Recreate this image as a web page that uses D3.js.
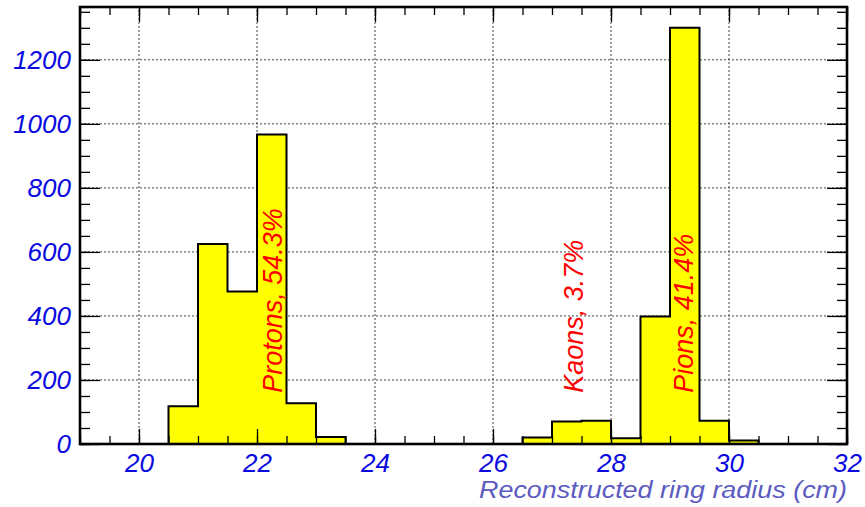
<!DOCTYPE html>
<html>
<head>
<meta charset="utf-8">
<script src="https://cdn.jsdelivr.net/npm/d3@7"></script>
<style>
  html, body { margin: 0; padding: 0; background: #ffffff; }
  svg { display: block; }
  text { font-family: "Liberation Sans", Arial, Helvetica, sans-serif; font-style: italic; }
</style>
</head>
<body>
<svg id="chart" width="865" height="507"></svg>
<script>
// Histogram of reconstructed ring radius: 26 bins of 0.5 cm from 19 to 32 cm
const binLow = 19;
const binWidth = 0.5;
const counts = [
  0, 0, 0,           // 19.0 - 20.5
  118, 625, 476, 967, 127, 22,   // 20.5 - 23.5 (protons)
  0, 0, 0, 0, 0, 0,  // 23.5 - 26.5
  20, 70, 73, 18,    // 26.5 - 28.5 (kaons)
  398, 1300, 73, 11, // 28.5 - 30.5 (pions)
  0, 0, 0            // 30.5 - 32.0
];
const xTicks = [20, 22, 24, 26, 28, 30, 32];
const yTicks = [0, 200, 400, 600, 800, 1000, 1200];
const species = ["Protons, 54.3%", "Kaons, 3.7%", "Pions, 41.4%"];
const axisTitle = "Reconstructed ring radius (cm)";

const svg = d3.select("#chart");
const W = 865, H = 507;
const margin = { left: 80, top: 7, right: 18, bottom: 63 };
const x0 = margin.left, x1 = W - margin.right;
const y0 = H - margin.bottom, y1 = margin.top;

const xMax = binLow + binWidth * counts.length;
const x = d3.scaleLinear().domain([binLow, xMax]).range([x0, x1]);
const y = d3.scaleLinear().domain([0, 1.05 * d3.max(counts)]).range([y0, y1]);

svg.append("rect").attr("width", W).attr("height", H).attr("fill", "#ffffff");

// dotted grid at major ticks
const grid = svg.append("g").attr("stroke", "#444").attr("stroke-width", 1)
  .attr("stroke-dasharray", "2,2");
grid.selectAll("line.gx").data(xTicks.filter(t => t > binLow && t < xMax)).join("line")
  .attr("x1", d => x(d)).attr("x2", d => x(d)).attr("y1", y0).attr("y2", y1);
grid.selectAll("line.gy").data(yTicks.filter(t => t > 0)).join("line")
  .attr("y1", d => y(d)).attr("y2", d => y(d)).attr("x1", x0).attr("x2", x1);

// histogram as a filled step outline
const pts = counts.map((c, i) => [binLow + i * binWidth, c]);
pts.push([xMax, counts[counts.length - 1]]);
const area = d3.area().curve(d3.curveStepAfter)
  .x(d => x(d[0])).y0(y(0)).y1(d => y(d[1]));
const line = d3.line().curve(d3.curveStepAfter)
  .x(d => x(d[0])).y(d => y(d[1]));
svg.append("path").attr("d", area(pts)).attr("fill", "#ffff00");
svg.append("path").attr("d", line(pts)).attr("fill", "none")
  .attr("stroke", "#000").attr("stroke-width", 2);

// tick marks on all four sides, pointing inward
const minorX = d3.range(binLow, xMax + 1e-9, 0.5);
const minorY = d3.range(0, y.domain()[1], 50);
function ticks(axis, transform) {
  const g = svg.append("g").attr("transform", transform).call(axis);
  g.select(".domain").remove();
  g.selectAll(".tick line").attr("stroke", "#000").attr("stroke-width", 1.3);
  return g;
}
const fmtNone = () => "";
ticks(d3.axisBottom(x).tickValues(minorX).tickSize(-8).tickFormat(fmtNone), `translate(0,${y0})`);
ticks(d3.axisTop(x).tickValues(minorX).tickSize(-8).tickFormat(fmtNone), `translate(0,${y1})`);
ticks(d3.axisTop(x).tickValues(xTicks).tickSize(-15).tickFormat(fmtNone), `translate(0,${y1})`);
ticks(d3.axisLeft(y).tickValues(minorY).tickSize(-10).tickFormat(fmtNone), `translate(${x0},0)`);
ticks(d3.axisRight(y).tickValues(minorY).tickSize(-10).tickFormat(fmtNone), `translate(${x1},0)`);
ticks(d3.axisRight(y).tickValues(yTicks).tickSize(-20).tickFormat(fmtNone), `translate(${x1},0)`);

const xAxis = ticks(d3.axisBottom(x).tickValues(xTicks).tickSize(-15).tickPadding(10)
  .tickFormat(d3.format("d")), `translate(0,${y0})`);
const yAxis = ticks(d3.axisLeft(y).tickValues(yTicks).tickSize(-20).tickPadding(9)
  .tickFormat(d3.format("d")), `translate(${x0},0)`);
[xAxis, yAxis].forEach(g => g.selectAll(".tick text")
  .attr("fill", "#0a0ae0").style("font-size", "26px")
  .style("font-family", "'Liberation Sans', Arial, sans-serif").style("font-style", "italic"));

// frame
svg.append("rect").attr("x", x0).attr("y", y1).attr("width", x1 - x0).attr("height", y0 - y1)
  .attr("fill", "none").attr("stroke", "#000").attr("stroke-width", 2.6);

// species labels, written vertically
const labelPos = [[22.42, 160], [27.52, 160], [29.39, 160]];
svg.selectAll("text.species").data(species).join("text")
  .attr("class", "species")
  .attr("transform", (d, i) => `translate(${x(labelPos[i][0])},${y(labelPos[i][1])}) rotate(-90)`)
  .attr("fill", "#ff0000").style("font-size", "27px")
  .text(d => d);

// axis title
svg.append("text").attr("x", x1).attr("y", 498).attr("text-anchor", "end")
  .attr("fill", "#5b5bc0").style("font-size", "23px")
  .attr("textLength", 368).attr("lengthAdjust", "spacingAndGlyphs")
  .text(axisTitle);
</script>
</body>
</html>
